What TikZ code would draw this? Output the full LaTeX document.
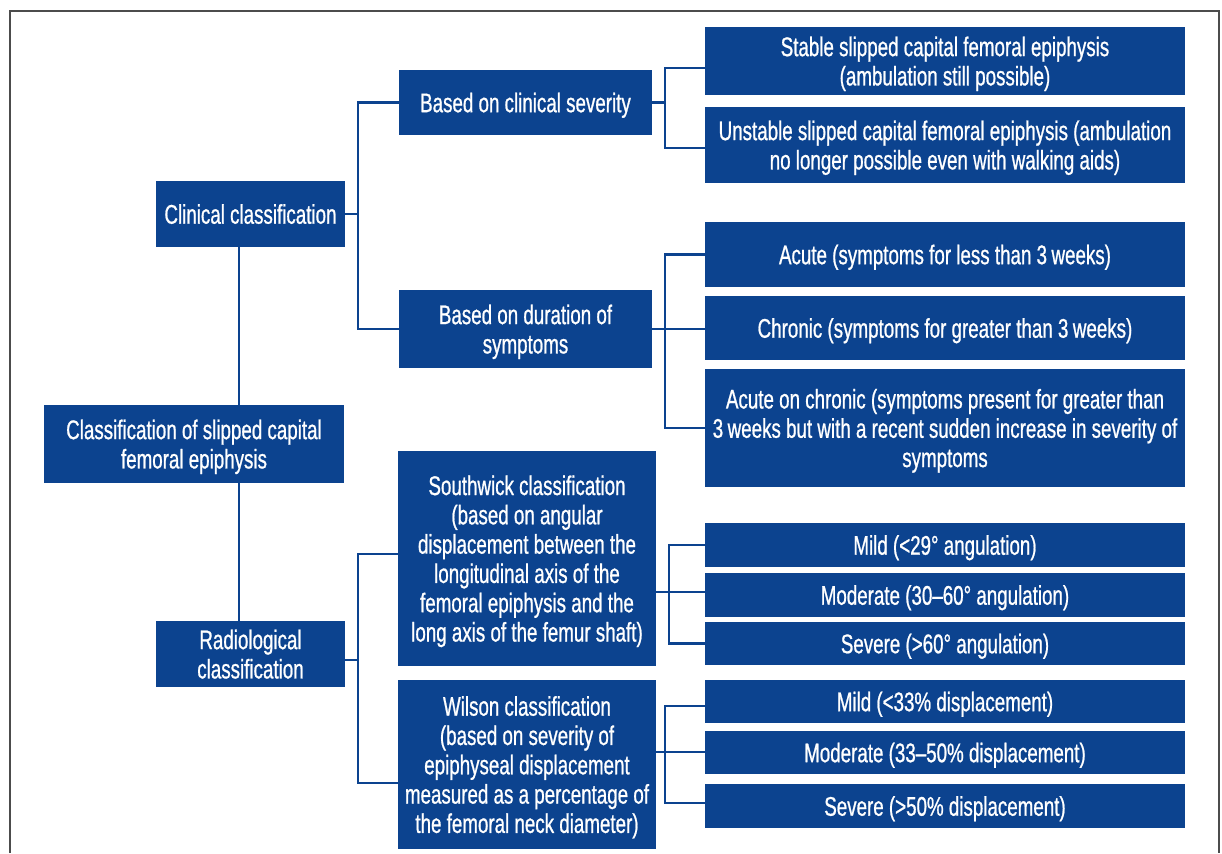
\documentclass[tikz,border=0pt]{standalone}
\usepackage{fontspec}
\setmainfont[FakeStretch=0.695, FakeBold=0.8]{Liberation Sans}
\definecolor{scfeblue}{RGB}{12,67,143}

\begin{document}
\begin{tikzpicture}[x=1pt, y=-1pt]
        % Define styles
        \tikzset{
            box/.style={rectangle, fill=scfeblue, text=white, inner sep=0pt, align=center,
                font=\fontsize{27}{29.3}\selectfont,
                execute at begin node={\rule[-0.25em]{0pt}{1.22em}}},
            multi/.style={text depth=-3.5pt},
            midbox/.style={box, minimum width=253, minimum height=65},
            leafbox/.style={box, minimum width=480},
            line/.style={draw=scfeblue, line width=2.5pt}
        }
        \useasboundingbox (0,0) rectangle (1222,853);

        % Frame
        \draw[gray!60!black, line width=1.5pt] (10,853) -- (10,11) -- (1219,11) -- (1219,853);

        % Nodes
        \node[box, multi, minimum width=300, minimum height=78] (root_node) at (194,444) {Classification of slipped capital\\femoral epiphysis};
        \node[box, minimum width=189, minimum height=66] (clinical_node) at (250.5,214) {Clinical classification};
        \node[box, multi, text depth=-10pt, minimum width=189, minimum height=66] (radio_node) at (250.5,654) {Radiological\\classification};

        \node[midbox] (severity_node) at (525.5,102.5) {Based on clinical severity};
        \node[midbox, multi, text depth=-6pt, minimum height=78] (duration_node) at (525.5,329) {Based on duration of\\symptoms};
        \node[box, multi, minimum width=258, minimum height=215] (southwick_node) at (527,558.5) {Southwick classification\\(based on angular\\displacement between the\\longitudinal axis of the\\femoral epiphysis and the\\long axis of the femur shaft)};
        \node[box, multi, minimum width=258, minimum height=169] (wilson_node) at (527,764.5) {Wilson classification\\(based on severity of\\epiphyseal displacement\\measured as a percentage of\\the femoral neck diameter)};

        \node[leafbox, multi, text depth=-1.5pt, minimum height=68] (stable_node) at (945,61) {Stable slipped capital femoral epiphysis\\(ambulation still possible)};
        \node[leafbox, multi, minimum height=76] (unstable_node) at (945,145) {Unstable slipped capital femoral epiphysis (ambulation\\no longer possible even with walking aids)};
        \node[leafbox, minimum height=65] (acute_node) at (945,254.5) {Acute (symptoms for less than 3\,weeks)};
        \node[leafbox, minimum height=64] (chronic_node) at (945,328) {Chronic (symptoms for greater than 3\,weeks)};
        \node[leafbox, multi, minimum height=118] (aoc_node) at (945,428) {Acute on chronic (symptoms present for greater than\\3\,weeks but with a recent sudden increase in severity of\\symptoms};

        \node[leafbox, minimum height=44] (s_mild_node) at (945,545) {Mild (<29° angulation)};
        \node[leafbox, minimum height=44] (s_moderate_node) at (945,595) {Moderate (30–60° angulation)};
        \node[leafbox, minimum height=43] (s_severe_node) at (945,643.5) {Severe (>60° angulation)};
        \node[leafbox, minimum height=43] (w_mild_node) at (945,701.5) {Mild (<33\% displacement)};
        \node[leafbox, minimum height=43] (w_moderate_node) at (945,752.5) {Moderate (33–50\% displacement)};
        \node[leafbox, minimum height=44] (w_severe_node) at (945,806) {Severe (>50\% displacement)};

        % Lines
        \draw[line] ([xshift=-11.5pt]clinical_node.south) -- ([xshift=-11.5pt]clinical_node.south |- root_node.north);
        \draw[line] ([xshift=-11.5pt]radio_node.north) -- ([xshift=-11.5pt]radio_node.north |- root_node.south);

        \draw[line] (clinical_node.east) -- ++(13,0);
        \draw[line] (severity_node.west) -- ++(-41,0) |- (duration_node.west);
        \draw[line] (severity_node.east) -- ++(13,0);
        \draw[line] ([yshift=-7pt]stable_node.west) -- ++(-40,0) |- ([yshift=-3pt]unstable_node.west);
        \draw[line] (acute_node.west) -- ++(-40,0) |- (aoc_node.west);
        \draw[line] (duration_node.east) -- (duration_node.east -| chronic_node.west);

        \draw[line] ([yshift=-6pt]radio_node.east) -- ++(13,0);
        \draw[line] ([yshift=4.5pt]southwick_node.west) -- ++(-40,0) |- ([yshift=-18.5pt]wilson_node.west);
        \draw[line] (s_mild_node.west) -- ++(-36,0) |- (s_severe_node.west);
        \draw[line] ([yshift=-33.5pt]southwick_node.east) -- ++(49,0);
        \draw[line] ([yshift=-4.5pt]w_mild_node.west) -- ++(-40,0) |- ([yshift=3pt]w_severe_node.west);
        \draw[line] ([yshift=12.5pt]wilson_node.east) -- ++(49,0);
\end{tikzpicture}
\end{document}
